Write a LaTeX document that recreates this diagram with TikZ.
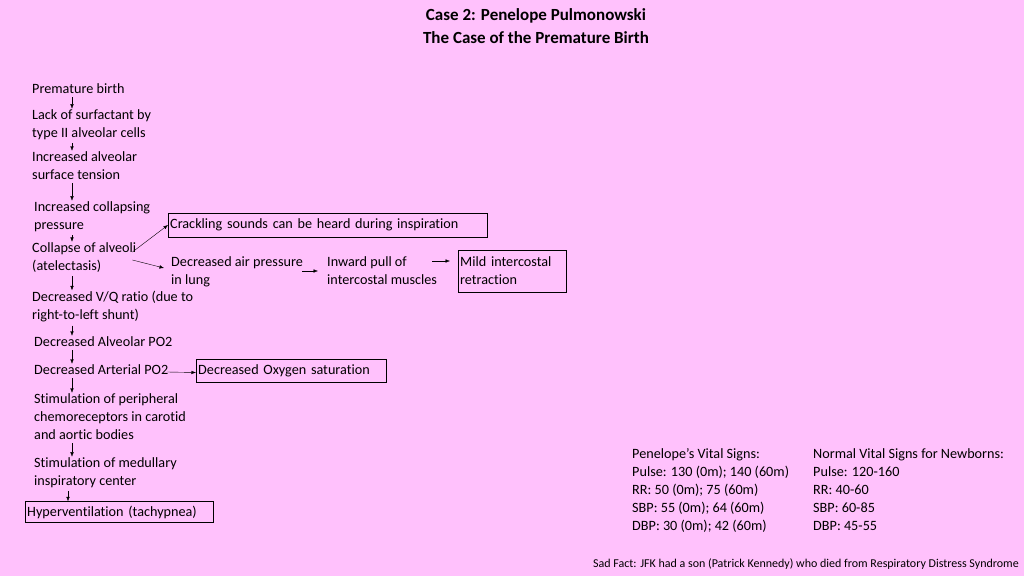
\documentclass[tikz,border=0pt]{standalone}
\usepackage{fontspec}
\setmainfont{Carlito}[Ligatures=NoCommon]
\usetikzlibrary{arrows.meta}
\begin{document}
\begin{tikzpicture}[x=1pt,y=-1pt,
  txt/.style={anchor=west,align=left,inner sep=1pt,font=\fontsize{14.2}{18}\selectfont},
  bx/.style={txt,draw,thin,inner sep=2pt},
  arr/.style={-{Latex[length=4.5pt,width=3.5pt]},thin}]
\fill[fill={rgb,255:red,255;green,193;blue,252}] (0,0) rectangle (1024,576);
\useasboundingbox (0,0) rectangle (1024,576);
\node[font=\bfseries\fontsize{17}{23}\selectfont,align=center] (title) at (536,26) {Case 2: Penelope Pulmonowski\\The Case of the Premature Birth};
\coordinate (ax) at (72,0);
\node[txt] (a) at (31,89) {Premature birth};
\node[txt] (b) at (31,125) {Lack of surfactant by\\type II alveolar cells};
\node[txt] (c) at (31,166) {Increased alveolar\\surface tension};
\node[txt] (d) at (33,217) {Increased collapsing\\pressure};
\node[txt] (e) at (31,258) {Collapse of alveoli\\(atelectasis)};
\node[txt] (f) at (31,307) {Decreased V/Q ratio (due to\\right-to-left shunt)};
\node[txt] (g) at (33,342) {Decreased Alveolar PO2};
\node[txt] (h) at (33,370) {Decreased Arterial PO2};
\node[txt] (i) at (33,417) {Stimulation of peripheral\\chemoreceptors in carotid\\and aortic bodies};
\node[txt] (j) at (33,473) {Stimulation of medullary\\inspiratory center};
\node[bx,text width=184pt,minimum height=21pt] (k) at (25,512) {Hyperventilation (tachypnea)};
\foreach \u/\v in {a/b,b/c,c/d,d/e,e/f,f/g,g/h,h/i,i/j}
  \draw[arr,shorten <=2pt] (\u.south west -| ax) -- (\v.north west -| ax);
\draw[arr,shorten <=2pt] (j.south west -| 68,0) -- (k.north west -| 68,0);
\node[bx,text width=315pt,minimum height=24pt] (cr) at (168,225) {Crackling sounds can be heard during inspiration};
\node[txt] (dp) at (170,272) {Decreased air pressure\\in lung};
\node[txt] (ip) at (326,271) {Inward pull of\\intercostal muscles};
\node[bx,text width=104pt,minimum height=42pt] (mi) at (458,271) {Mild intercostal\\retraction};
\node[bx,text width=186pt,minimum height=23pt] (ox) at (196,370.5) {Decreased Oxygen saturation};
\draw[arr] ([xshift=-5pt,yshift=6pt]e.east) -- (cr.west);
\draw[arr] ([xshift=-5pt,yshift=-2pt]e.east) -- ([xshift=-6pt,yshift=4pt]dp.west);
\draw[arr] ([xshift=-24pt,yshift=0pt]ip.west) -- ([xshift=-8pt]ip.west);
\draw[arr] ([xshift=-26pt,yshift=10pt]mi.west) -- ([xshift=-8pt,yshift=10pt]mi.west);
\draw[arr] ([xshift=-2pt,yshift=-2pt]h.east) -- ([yshift=-2pt]ox.west);
\node[txt] (pv) at (631,490) {Penelope’s Vital Signs:\\Pulse: 130 (0m); 140 (60m)\\RR: 50 (0m); 75 (60m)\\SBP: 55 (0m); 64 (60m)\\DBP: 30 (0m); 42 (60m)};
\node[txt] (nv) at (812,490) {Normal Vital Signs for Newborns:\\Pulse: 120-160\\RR: 40-60\\SBP: 60-85\\DBP: 45-55};
\node[anchor=east,inner sep=1pt,font=\fontsize{12}{13}\selectfont] (sf) at (1020,564) {Sad Fact: JFK had a son (Patrick Kennedy) who died from Respiratory Distress Syndrome};
\end{tikzpicture}
\end{document}
